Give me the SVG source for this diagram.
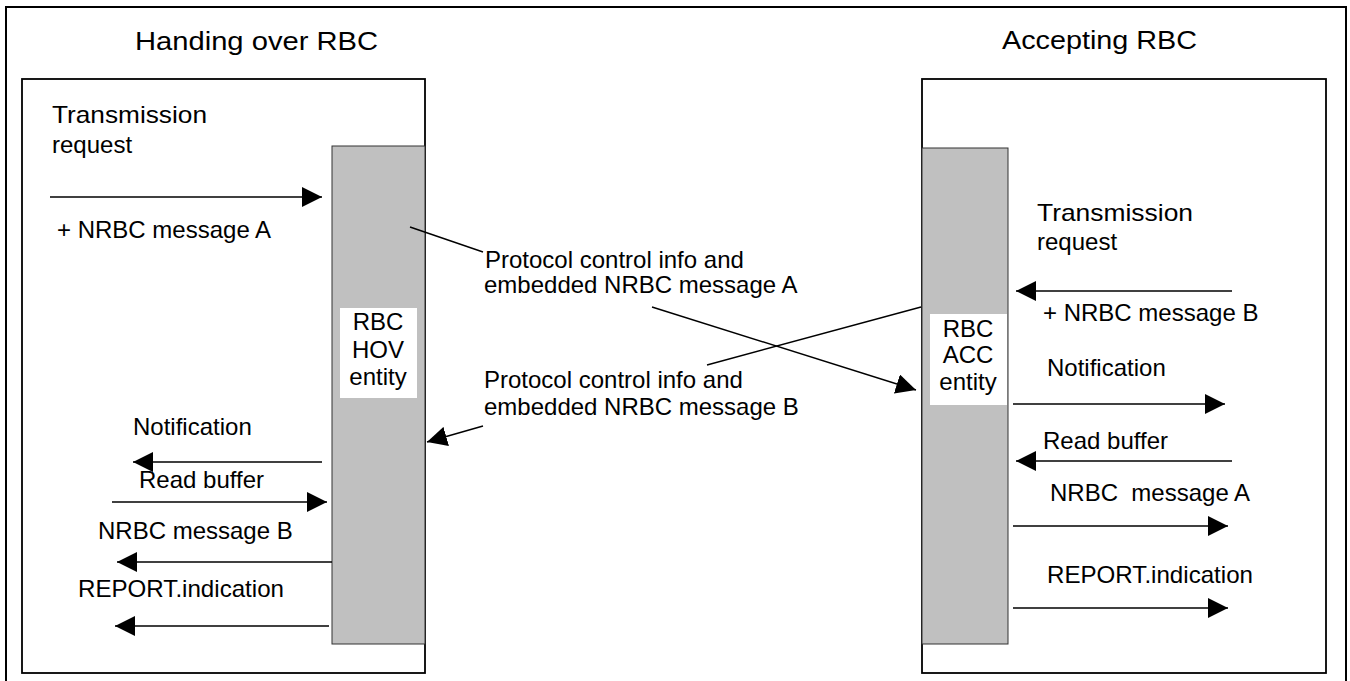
<svg xmlns="http://www.w3.org/2000/svg" width="1350" height="681" viewBox="0 0 1350 681">
<style>
text{font-family:"Liberation Sans",Arial,sans-serif;font-size:24px;fill:#000}
.title{font-size:25px}
.frame{fill:none;stroke:#000;stroke-width:2}
.box{fill:#fff;stroke:#000;stroke-width:1.8}
.bar{fill:#c0c0c0;stroke:#333;stroke-width:1}
.lbl{fill:#fff;stroke:none}
.ln{fill:none;stroke:#000;stroke-width:1.4}
.ar{fill:none;stroke:#000;stroke-width:1.4;marker-end:url(#ah)}
</style>
<defs>
<marker id="ah" markerUnits="userSpaceOnUse" markerWidth="20" markerHeight="20" refX="20" refY="10" orient="auto" viewBox="0 0 20 20">
<path d="M0,0 L20,10 L0,20 z" fill="#000"/>
</marker>
</defs>
<rect width="1350" height="681" fill="#fff"/>
<rect class="frame" x="6" y="7" width="1340" height="690"/>
<g id="hov-rbc">
<text class="title" x="135" y="50" textLength="243" lengthAdjust="spacingAndGlyphs">Handing over RBC</text>
<rect class="box" x="22" y="79" width="403" height="594"/>
</g>
<g id="acc-rbc">
<text class="title" x="1002" y="49" textLength="195" lengthAdjust="spacingAndGlyphs">Accepting RBC</text>
<rect class="box" x="922" y="79" width="404" height="594"/>
</g>
<g id="hov-entity">
<rect class="bar" x="332" y="146" width="93" height="498"/>
<rect class="lbl" x="340" y="308" width="77" height="90"/>
<text x="378" y="330" text-anchor="middle">RBC</text>
<text x="378" y="358" text-anchor="middle">HOV</text>
<text x="378" y="385" text-anchor="middle">entity</text>
</g>
<g id="acc-entity">
<rect class="bar" x="922" y="148" width="86" height="496"/>
<rect class="lbl" x="930" y="314" width="77" height="91"/>
<text x="968" y="337" text-anchor="middle">RBC</text>
<text x="968" y="363" text-anchor="middle">ACC</text>
<text x="968" y="390" text-anchor="middle">entity</text>
</g>
<g id="labels">
<text x="52" y="123" textLength="155" lengthAdjust="spacingAndGlyphs">Transmission</text>
<text x="52" y="153">request</text>
<text x="57" y="238">+ NRBC message A</text>
<text x="133" y="435">Notification</text>
<text x="139" y="488">Read buffer</text>
<text x="98" y="539">NRBC message B</text>
<text x="78" y="597" textLength="206" lengthAdjust="spacingAndGlyphs">REPORT.indication</text>
<text x="485" y="268">Protocol control info and</text>
<text x="484" y="293">embedded NRBC message A</text>
<text x="484" y="388">Protocol control info and</text>
<text x="484" y="415">embedded NRBC message B</text>
<text x="1037" y="221" textLength="156" lengthAdjust="spacingAndGlyphs">Transmission</text>
<text x="1037" y="250">request</text>
<text x="1043" y="321">+ NRBC message B</text>
<text x="1047" y="376">Notification</text>
<text x="1043" y="449">Read buffer</text>
<text x="1050" y="501" xml:space="preserve">NRBC  message A</text>
<text x="1047" y="583" textLength="206" lengthAdjust="spacingAndGlyphs">REPORT.indication</text>
</g>
<g id="connectors">
<line class="ar" x1="50" y1="197" x2="322" y2="197"/>
<line class="ar" x1="322" y1="462" x2="133" y2="462"/>
<line class="ar" x1="112" y1="502" x2="327" y2="502"/>
<line class="ar" x1="332" y1="562" x2="117" y2="562"/>
<line class="ar" x1="329" y1="626" x2="115" y2="626"/>
<line class="ar" x1="1232" y1="291" x2="1016" y2="291"/>
<line class="ar" x1="1013" y1="404" x2="1225" y2="404"/>
<line class="ar" x1="1232" y1="461" x2="1016" y2="461"/>
<line class="ar" x1="1013" y1="526" x2="1228" y2="526"/>
<line class="ar" x1="1013" y1="608" x2="1228" y2="608"/>
<line class="ln" x1="410" y1="227" x2="483" y2="252"/>
<line class="ar" x1="652" y1="307" x2="916" y2="390"/>
<line class="ln" x1="921" y1="307" x2="707" y2="365"/>
<line class="ar" x1="483" y1="426" x2="427" y2="442"/>
</g>
</svg>
